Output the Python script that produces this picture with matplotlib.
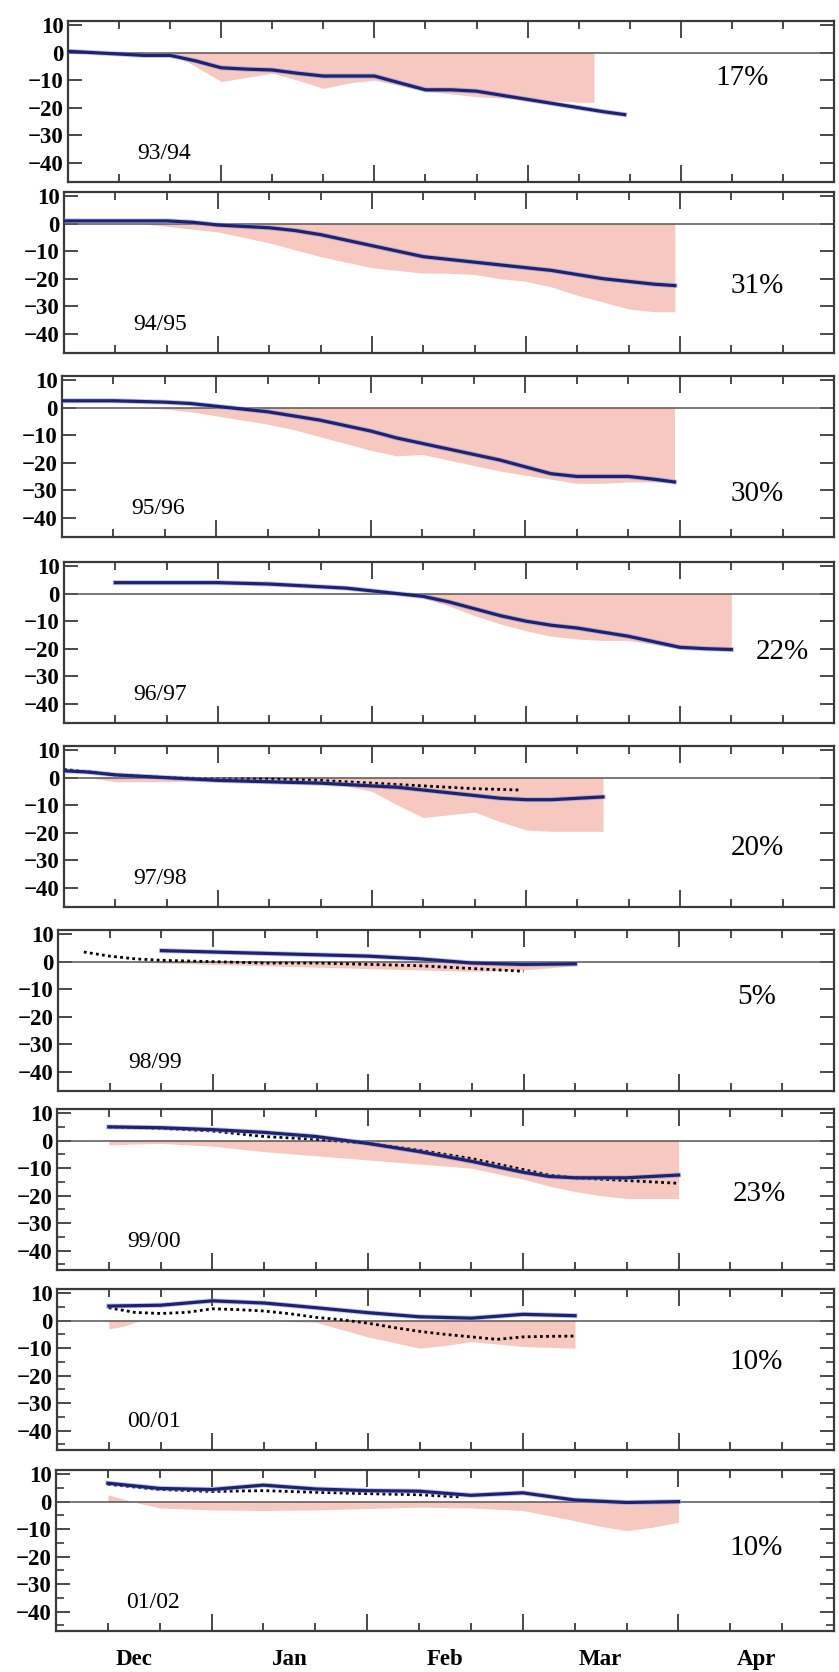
import matplotlib
matplotlib.use("Agg")
import matplotlib.pyplot as plt
from matplotlib.ticker import MultipleLocator, FixedLocator

plt.rcParams['font.family'] = ['Liberation Serif', 'DejaVu Serif']

# x axis is in dekads (10-day steps) counted from 1 December
months = ["Dec", "Jan", "Feb", "Mar", "Apr"]
month_centres = [1.5, 4.5, 7.5, 10.5, 13.5]
month_bounds = [3, 6, 9, 12]

seasons = ["93/94", "94/95", "95/96", "96/97", "97/98", "98/99", "99/00", "00/01", "01/02"]
percents = ["17%", "31%", "30%", "22%", "20%", "5%", "23%", "10%", "10%"]
percent_x = [13.2, 13.5, 13.5, 14.0, 13.5, 13.5, 13.55, 13.5, 13.5]
percent_y = [-9.3, -22.5, -31.4, -21.3, -25.6, -12.8, -19.4, -15.1, -17.0]

# 93/94
blue_x_93 = [0, 0.5, 1, 1.5, 2, 2.5, 3, 3.5, 4, 4.5, 5, 5.5, 6, 6.5, 7, 7.5, 8, 8.5, 9, 9.5, 10, 10.5, 10.9]
blue_y_93 = [0.5, 0, -0.5, -1, -1, -3, -5.5, -6, -6.3, -7.5, -8.5, -8.5, -8.5, -11, -13.5, -13.5, -14, -15.5, -17, -18.5, -20, -21.5, -22.5]
pink_x_93 = [2, 2.5, 3, 3.5, 4, 4.5, 5, 5.5, 6, 6.5, 7, 7.5, 8, 8.5, 9, 9.5, 10, 10.3]
pink_y_93 = [0, -5, -10.5, -9, -7.5, -10, -13, -11, -10, -12, -14, -15, -16, -16.5, -17, -17.5, -18, -18]

# 94/95
blue_x_94 = [0, 1, 2, 2.5, 3, 3.5, 4, 4.5, 5, 5.5, 6, 6.5, 7, 7.5, 8, 8.5, 9, 9.5, 10, 10.5, 11, 11.5, 11.9]
blue_y_94 = [1, 1, 1, 0.5, -0.5, -1, -1.5, -2.5, -4, -6, -8, -10, -12, -13, -14, -15, -16, -17, -18.5, -20, -21, -22, -22.5]
pink_x_94 = [1.5, 2, 3, 4, 5, 6, 7, 7.5, 8, 8.5, 9, 9.5, 10, 10.5, 11, 11.5, 11.9]
pink_y_94 = [0, -1, -3, -7, -12, -16, -18, -18, -18.5, -20, -21, -23, -26, -28.5, -31, -32, -32]

# 95/96
blue_x_95 = [0, 1, 2, 2.5, 3, 3.5, 4, 4.5, 5, 5.5, 6, 6.5, 7, 7.5, 8, 8.5, 9, 9.5, 10, 10.5, 11, 11.5, 11.9]
blue_y_95 = [2.5, 2.5, 2, 1.5, 0.5, -0.5, -1.5, -3, -4.5, -6.5, -8.5, -11, -13, -15, -17, -19, -21.5, -24, -25, -25, -25, -26, -27]
pink_x_95 = [1.5, 2, 2.5, 3, 3.5, 4, 4.5, 5, 5.5, 6, 6.5, 7, 7.5, 8, 8.5, 9, 9.5, 10, 10.5, 11, 11.5, 11.9]
pink_y_95 = [0, -0.5, -1.5, -3, -4.5, -6, -8, -10.5, -13, -15.5, -17.5, -17, -19, -21, -23, -24.5, -26, -27.5, -27.5, -27, -27, -27]

# 96/97
blue_x_96 = [1, 2, 3, 4, 5, 5.5, 6, 6.5, 7, 7.5, 8, 8.5, 9, 9.5, 10, 10.5, 11, 11.5, 12, 12.5, 13]
blue_y_96 = [4, 4, 4, 3.5, 2.5, 2, 1, 0, -1, -3, -5.5, -8, -10, -11.5, -12.5, -14, -15.5, -17.5, -19.5, -20, -20.3]
pink_x_96 = [6.5, 7, 7.5, 8, 8.5, 9, 9.5, 10, 10.5, 11, 11.5, 12, 12.5, 13]
pink_y_96 = [0, -1.6, -4.5, -8, -11, -13.5, -15.5, -16.5, -17, -17, -18.5, -20, -20, -20]

# 97/98
blue_x_97 = [0, 0.5, 1, 2, 3, 4, 5, 6, 6.5, 7, 7.5, 8, 8.5, 9, 9.5, 10, 10.5]
blue_y_97 = [2.5, 2, 1, 0, -1, -1.5, -2, -3, -3.5, -4.5, -5.5, -6.5, -7.5, -8, -8, -7.5, -7]
dot_x_97 = [0, 0.5, 1, 2, 3, 4, 5, 6, 7, 8, 8.9]
dot_y_97 = [3, 2, 1, 0, -0.5, -0.5, -1, -2, -3, -4, -4.5]
pink_x_97 = [0.5, 1, 2, 3, 4, 5, 5.5, 6, 6.5, 7, 7.5, 8, 8.5, 9, 9.5, 10, 10.5]
pink_y_97 = [0, -1.5, -1.5, -1, -1.5, -2, -3, -5, -10, -14.5, -13.5, -12.5, -16, -19, -19.5, -19.5, -19.5]

# 98/99
blue_x_98 = [2, 3, 4, 5, 6, 7, 8, 9, 10]
blue_y_98 = [4, 3.5, 3, 2.5, 2, 1, -0.5, -1, -0.8]
dot_x_98 = [0.5, 1, 1.5, 2, 3, 4, 5, 6, 7, 8, 9]
dot_y_98 = [3.5, 2, 1, 0.5, 0, -0.5, -0.5, -1, -1.5, -2.5, -3.5]
pink_x_98 = [1.5, 2, 3, 4, 5, 6, 7, 8, 9, 10]
pink_y_98 = [0, -0.5, -1, -1.5, -2, -2.5, -3, -3.5, -3, -1.5]

# 99/00
blue_x_99 = [1, 2, 3, 4, 5, 6, 7, 8, 8.5, 9, 9.5, 10, 10.5, 11, 11.5, 12]
blue_y_99 = [5, 4.7, 4, 3, 1.5, -1, -4, -7.5, -9.5, -11.5, -13, -13.5, -13.5, -13.5, -13, -12.5]
dot_x_99 = [1, 2, 3, 4, 5, 6, 7, 8, 8.5, 9, 9.5, 10, 10.5, 11, 11.5, 12]
dot_y_99 = [5, 4.5, 3.5, 1.5, 0.5, -1, -3.5, -6.5, -8.5, -10.5, -12.5, -13.5, -14, -14.5, -15, -15.5]
pink_x_99 = [1, 2, 3, 4, 5, 6, 7, 8, 8.5, 9, 9.5, 10, 10.5, 11, 11.5, 12]
pink_y_99 = [-1.5, -1, -2, -4, -5.5, -7, -8.5, -10, -12, -14, -16.5, -18.5, -20, -21, -21, -21]

# 00/01
blue_x_00 = [1, 2, 3, 4, 5, 6, 7, 8, 9, 10]
blue_y_00 = [5.3, 5.6, 7.2, 6.4, 4.7, 2.9, 1.4, 0.9, 2.3, 1.8]
dot_x_00 = [1, 1.5, 2, 2.5, 3, 3.5, 4, 4.5, 5, 5.5, 6, 6.5, 7, 7.5, 8, 8.5, 9, 9.5, 10]
dot_y_00 = [4.7, 3, 2.6, 3, 4.3, 4, 3.5, 2.5, 1.2, 0.3, -0.9, -2.5, -3.9, -5, -5.9, -6.8, -5.9, -5.7, -5.6]
pink_x_00 = [1, 1.3, 1.6, 2, 3, 4, 5, 6, 7, 7.5, 8, 8.5, 9, 10]
pink_y_00 = [-3, -2, 0, 0, 0, 0, -0.6, -5.9, -10, -9, -7.6, -8.5, -9.4, -10]

# 01/02
blue_x_01 = [1, 2, 3, 4, 5, 6, 7, 8, 9, 10, 11, 12]
blue_y_01 = [6.7, 4.8, 4.4, 6, 4.6, 4, 3.8, 2.3, 3.2, 0.6, -0.3, 0]
dot_x_01 = [1, 2, 3, 4, 5, 6, 7, 7.8]
dot_y_01 = [6.3, 4.4, 3.7, 4, 3.4, 2.9, 2.5, 1.7]
pink_x_01 = [1, 1.6, 2, 3, 4, 5, 6, 7, 8, 9, 10, 10.5, 11, 11.5, 12]
pink_y_01 = [2.5, -0.6, -2.3, -3, -3.2, -3, -2.5, -2, -2.3, -3.2, -6.9, -9, -10.5, -9.3, -7.5]

blue_x = [blue_x_93, blue_x_94, blue_x_95, blue_x_96, blue_x_97, blue_x_98, blue_x_99, blue_x_00, blue_x_01]
blue_y = [blue_y_93, blue_y_94, blue_y_95, blue_y_96, blue_y_97, blue_y_98, blue_y_99, blue_y_00, blue_y_01]
pink_x = [pink_x_93, pink_x_94, pink_x_95, pink_x_96, pink_x_97, pink_x_98, pink_x_99, pink_x_00, pink_x_01]
pink_y = [pink_y_93, pink_y_94, pink_y_95, pink_y_96, pink_y_97, pink_y_98, pink_y_99, pink_y_00, pink_y_01]
dot_x = [None, None, None, None, dot_x_97, dot_x_98, dot_x_99, dot_x_00, dot_x_01]
dot_y = [None, None, None, None, dot_y_97, dot_y_98, dot_y_99, dot_y_00, dot_y_01]

# panel frames in pixels (left, top, right)
W, H = 839, 1672
lefts = [68, 64, 62, 64, 64, 58, 57, 57, 56]
tops = [21, 192, 376, 562, 746, 930, 1109, 1289, 1470]
right = 834
panel_h = 161

fig = plt.figure(figsize=(W / 100, H / 100), dpi=100)

for i in range(9):
    L, T = lefts[i], tops[i]
    ax = fig.add_axes([L / W, 1 - (T + panel_h) / H, (right - L) / W, panel_h / H])
    ax.set_xlim(0, 15)
    ax.set_ylim(-47, 11.5)

    ax.fill_between(pink_x[i], 0, pink_y[i], color="#f6c8bf", lw=0, zorder=1)
    ax.axhline(0, color="#555555", lw=1.1, zorder=2)
    if dot_x[i] is not None:
        ax.plot(dot_x[i], dot_y[i], color="black", lw=2.0, ls=(0, (1, 1.2)), zorder=3)
    ax.plot(blue_x[i], blue_y[i], color="#8090d8", lw=3.6, alpha=0.5, zorder=4)
    ax.plot(blue_x[i], blue_y[i], color="#1e2270", lw=2.3, zorder=5)

    ax.text(1.35, -36.5, seasons[i], fontsize=17, va="center", ha="left")
    ax.text(percent_x[i], percent_y[i], percents[i], fontsize=21, va="center", ha="center")

    for s in ax.spines.values():
        s.set_linewidth(1.6)
        s.set_color("#3a3a3a")

    ax.xaxis.set_major_locator(FixedLocator(month_bounds))
    ax.xaxis.set_minor_locator(MultipleLocator(1))
    ax.tick_params(axis="x", which="major", direction="in", length=12, width=1.3,
                   top=True, bottom=True, labelbottom=False, color="#3a3a3a")
    ax.tick_params(axis="x", which="minor", direction="in", length=6, width=1.3,
                   top=True, bottom=True, color="#3a3a3a")

    ax.set_yticks([10, 0, -10, -20, -30, -40])
    ax.tick_params(axis="y", which="major", direction="in", length=10, width=1.3,
                   left=True, right=True, labelsize=16.5, pad=3, color="#3a3a3a")
    for lab in ax.get_yticklabels():
        lab.set_fontweight("bold")
    if i >= 6:
        ax.yaxis.set_minor_locator(MultipleLocator(5))
        ax.tick_params(axis="y", which="minor", direction="in", length=6, width=1.2,
                       left=True, right=True, color="#3a3a3a")

    if i == 8:
        sec = ax.secondary_xaxis("bottom")
        sec.set_xticks(month_centres, labels=months)
        sec.tick_params(length=0, labelsize=16.5, pad=13)
        for lab in sec.get_xticklabels():
            lab.set_fontweight("bold")
        sec.spines["bottom"].set_visible(False)

fig.savefig("out.png", dpi=100)
